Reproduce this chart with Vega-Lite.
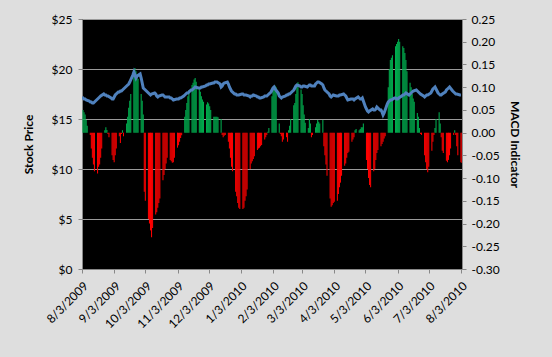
{
  "$schema": "https://vega.github.io/schema/vega-lite/v6.json",
  "width": 380,
  "height": 250,
  "autosize": {"type": "none"},
  "padding": {"left": 82, "top": 19, "right": 90, "bottom": 88},
  "background": "#dedede",
  "config": {
    "view": {"fill": "#000000", "stroke": null},
    "font": "Lato",
    "axis": {"labelFont": "Lato", "titleFont": "Lato", "labelFontSize": 12, "titleFontSize": 12, "labelColor": "#000000", "titleColor": "#000000", "titleFontWeight": "bold", "domainColor": "#888888", "tickColor": "#888888", "tickSize": 4}
  },
  "data": {"values": [
    {"date":"2009/08/03","price":17.2,"macd":0.05},{"date":"2009/08/04","price":17.1,"macd":0.045},{"date":"2009/08/05","price":17.0,"macd":0.04},{"date":"2009/08/06","price":17.0,"macd":0.028},{"date":"2009/08/07","price":16.9,"macd":0.015},
    {"date":"2009/08/10","price":16.8,"macd":-0.005},{"date":"2009/08/11","price":16.7,"macd":-0.035},{"date":"2009/08/12","price":16.7,"macd":-0.055},{"date":"2009/08/13","price":16.6,"macd":-0.07},{"date":"2009/08/14","price":16.6,"macd":-0.085},
    {"date":"2009/08/17","price":16.9,"macd":-0.09},{"date":"2009/08/18","price":17.0,"macd":-0.075},{"date":"2009/08/19","price":17.1,"macd":-0.07},{"date":"2009/08/20","price":17.2,"macd":-0.055},{"date":"2009/08/21","price":17.3,"macd":-0.035},
    {"date":"2009/08/24","price":17.5,"macd":0.005},{"date":"2009/08/25","price":17.4,"macd":0.012},{"date":"2009/08/26","price":17.4,"macd":0.006},{"date":"2009/08/27","price":17.3,"macd":-0.003},{"date":"2009/08/28","price":17.3,"macd":-0.01},
    {"date":"2009/08/31","price":17.1,"macd":-0.05},{"date":"2009/09/01","price":17.0,"macd":-0.06},{"date":"2009/09/02","price":17.0,"macd":-0.065},{"date":"2009/09/03","price":17.2,"macd":-0.05},{"date":"2009/09/04","price":17.4,"macd":-0.035},
    {"date":"2009/09/07","price":17.7,"macd":-0.008},{"date":"2009/09/08","price":17.7,"macd":-0.023},{"date":"2009/09/09","price":17.8,"macd":-0.003},{"date":"2009/09/10","price":17.8,"macd":0.005},{"date":"2009/09/11","price":17.9,"macd":-0.008},
    {"date":"2009/09/14","price":18.2,"macd":0.02},{"date":"2009/09/15","price":18.3,"macd":0.035},{"date":"2009/09/16","price":18.4,"macd":0.055},{"date":"2009/09/17","price":18.5,"macd":0.07},{"date":"2009/09/18","price":18.7,"macd":0.085},
    {"date":"2009/09/21","price":19.4,"macd":0.13},{"date":"2009/09/22","price":19.7,"macd":0.142},{"date":"2009/09/23","price":19.4,"macd":0.135},{"date":"2009/09/24","price":19.1,"macd":0.125},{"date":"2009/09/25","price":19.3,"macd":0.118},
    {"date":"2009/09/28","price":19.5,"macd":0.085},{"date":"2009/09/29","price":19.1,"macd":0.07},{"date":"2009/09/30","price":18.6,"macd":0.04},{"date":"2009/10/01","price":18.1,"macd":-0.13},{"date":"2009/10/02","price":18.0,"macd":-0.15},
    {"date":"2009/10/05","price":17.7,"macd":-0.19},{"date":"2009/10/06","price":17.6,"macd":-0.2},{"date":"2009/10/07","price":17.5,"macd":-0.215},{"date":"2009/10/08","price":17.4,"macd":-0.23},{"date":"2009/10/09","price":17.5,"macd":-0.21},
    {"date":"2009/10/12","price":17.6,"macd":-0.18},{"date":"2009/10/13","price":17.5,"macd":-0.175},{"date":"2009/10/14","price":17.3,"macd":-0.165},{"date":"2009/10/15","price":17.2,"macd":-0.155},{"date":"2009/10/16","price":17.3,"macd":-0.145},
    {"date":"2009/10/19","price":17.4,"macd":-0.105},{"date":"2009/10/20","price":17.4,"macd":-0.093},{"date":"2009/10/21","price":17.3,"macd":-0.08},{"date":"2009/10/22","price":17.2,"macd":-0.068},{"date":"2009/10/23","price":17.2,"macd":-0.055},
    {"date":"2009/10/26","price":17.2,"macd":-0.06},{"date":"2009/10/27","price":17.1,"macd":-0.063},{"date":"2009/10/28","price":17.1,"macd":-0.066},{"date":"2009/10/29","price":17.0,"macd":-0.065},{"date":"2009/10/30","price":16.9,"macd":-0.055},
    {"date":"2009/11/02","price":17.0,"macd":-0.033},{"date":"2009/11/03","price":17.0,"macd":-0.028},{"date":"2009/11/04","price":17.0,"macd":-0.02},{"date":"2009/11/05","price":17.1,"macd":-0.012},{"date":"2009/11/06","price":17.1,"macd":-0.006},
    {"date":"2009/11/09","price":17.3,"macd":0.035},{"date":"2009/11/10","price":17.4,"macd":0.05},{"date":"2009/11/11","price":17.5,"macd":0.065},{"date":"2009/11/12","price":17.6,"macd":0.08},{"date":"2009/11/13","price":17.6,"macd":0.094},
    {"date":"2009/11/16","price":17.9,"macd":0.105},{"date":"2009/11/17","price":17.9,"macd":0.11},{"date":"2009/11/18","price":18.0,"macd":0.117},{"date":"2009/11/19","price":18.1,"macd":0.12},{"date":"2009/11/20","price":18.2,"macd":0.112},
    {"date":"2009/11/23","price":18.1,"macd":0.1},{"date":"2009/11/24","price":18.1,"macd":0.09},{"date":"2009/11/25","price":18.1,"macd":0.08},{"date":"2009/11/26","price":18.2,"macd":0.073},{"date":"2009/11/27","price":18.2,"macd":0.068},
    {"date":"2009/11/30","price":18.3,"macd":0.062},{"date":"2009/12/01","price":18.4,"macd":0.067},{"date":"2009/12/02","price":18.4,"macd":0.064},{"date":"2009/12/03","price":18.5,"macd":0.058},{"date":"2009/12/04","price":18.5,"macd":0.05},
    {"date":"2009/12/07","price":18.6,"macd":0.035},{"date":"2009/12/08","price":18.6,"macd":0.035},{"date":"2009/12/09","price":18.7,"macd":0.035},{"date":"2009/12/10","price":18.7,"macd":0.035},{"date":"2009/12/11","price":18.7,"macd":0.034},
    {"date":"2009/12/14","price":18.5,"macd":0.03},{"date":"2009/12/15","price":18.2,"macd":-0.005},{"date":"2009/12/16","price":18.3,"macd":-0.01},{"date":"2009/12/17","price":18.5,"macd":-0.007},{"date":"2009/12/18","price":18.6,"macd":-0.005},
    {"date":"2009/12/21","price":18.7,"macd":-0.02},{"date":"2009/12/22","price":18.5,"macd":-0.035},{"date":"2009/12/23","price":18.2,"macd":-0.055},{"date":"2009/12/24","price":18.0,"macd":-0.075},{"date":"2009/12/25","price":17.8,"macd":-0.085},
    {"date":"2009/12/28","price":17.5,"macd":-0.13},{"date":"2009/12/29","price":17.5,"macd":-0.14},{"date":"2009/12/30","price":17.4,"macd":-0.155},{"date":"2009/12/31","price":17.4,"macd":-0.165},{"date":"2010/01/01","price":17.4,"macd":-0.168},
    {"date":"2010/01/04","price":17.5,"macd":-0.168},{"date":"2010/01/05","price":17.5,"macd":-0.165},{"date":"2010/01/06","price":17.4,"macd":-0.15},{"date":"2010/01/07","price":17.4,"macd":-0.14},{"date":"2010/01/08","price":17.4,"macd":-0.125},
    {"date":"2010/01/11","price":17.3,"macd":-0.08},{"date":"2010/01/12","price":17.2,"macd":-0.068},{"date":"2010/01/13","price":17.3,"macd":-0.063},{"date":"2010/01/14","price":17.3,"macd":-0.058},{"date":"2010/01/15","price":17.4,"macd":-0.052},
    {"date":"2010/01/18","price":17.3,"macd":-0.038},{"date":"2010/01/19","price":17.2,"macd":-0.035},{"date":"2010/01/20","price":17.2,"macd":-0.033},{"date":"2010/01/21","price":17.1,"macd":-0.03},{"date":"2010/01/22","price":17.1,"macd":-0.027},
    {"date":"2010/01/25","price":17.2,"macd":-0.015},{"date":"2010/01/26","price":17.3,"macd":-0.01},{"date":"2010/01/27","price":17.3,"macd":-0.005},{"date":"2010/01/28","price":17.3,"macd":0.002},{"date":"2010/01/29","price":17.4,"macd":0.01},
    {"date":"2010/02/01","price":17.7,"macd":0.08},{"date":"2010/02/02","price":17.9,"macd":0.095},{"date":"2010/02/03","price":18.1,"macd":0.1},{"date":"2010/02/04","price":18.2,"macd":0.103},{"date":"2010/02/05","price":18.0,"macd":0.1},
    {"date":"2010/02/08","price":17.6,"macd":0.02},{"date":"2010/02/09","price":17.3,"macd":-0.003},{"date":"2010/02/10","price":17.2,"macd":-0.008},{"date":"2010/02/11","price":17.1,"macd":-0.02},{"date":"2010/02/12","price":17.2,"macd":-0.015},
    {"date":"2010/02/15","price":17.3,"macd":-0.01},{"date":"2010/02/16","price":17.4,"macd":-0.02},{"date":"2010/02/17","price":17.4,"macd":0.005},{"date":"2010/02/18","price":17.5,"macd":0.015},{"date":"2010/02/19","price":17.5,"macd":0.03},
    {"date":"2010/02/22","price":17.8,"macd":0.06},{"date":"2010/02/23","price":17.9,"macd":0.065},{"date":"2010/02/24","price":18.1,"macd":0.085},{"date":"2010/02/25","price":18.3,"macd":0.105},{"date":"2010/02/26","price":18.4,"macd":0.111},
    {"date":"2010/03/01","price":18.3,"macd":0.095},{"date":"2010/03/02","price":18.2,"macd":0.085},{"date":"2010/03/03","price":18.2,"macd":0.06},{"date":"2010/03/04","price":18.3,"macd":0.04},{"date":"2010/03/05","price":18.3,"macd":0.022},
    {"date":"2010/03/08","price":18.2,"macd":0.01},{"date":"2010/03/09","price":18.3,"macd":0.03},{"date":"2010/03/10","price":18.4,"macd":0.02},{"date":"2010/03/11","price":18.4,"macd":-0.01},{"date":"2010/03/12","price":18.3,"macd":-0.005},
    {"date":"2010/03/15","price":18.3,"macd":0.012},{"date":"2010/03/16","price":18.5,"macd":0.02},{"date":"2010/03/17","price":18.6,"macd":0.028},{"date":"2010/03/18","price":18.7,"macd":0.024},{"date":"2010/03/19","price":18.7,"macd":0.02},
    {"date":"2010/03/22","price":18.5,"macd":0.028},{"date":"2010/03/23","price":18.4,"macd":-0.03},{"date":"2010/03/24","price":18.1,"macd":-0.05},{"date":"2010/03/25","price":17.9,"macd":-0.07},{"date":"2010/03/26","price":17.8,"macd":-0.095},
    {"date":"2010/03/29","price":17.5,"macd":-0.145},{"date":"2010/03/30","price":17.3,"macd":-0.163},{"date":"2010/03/31","price":17.2,"macd":-0.16},{"date":"2010/04/01","price":17.3,"macd":-0.155},{"date":"2010/04/02","price":17.4,"macd":-0.152},
    {"date":"2010/04/05","price":17.3,"macd":-0.15},{"date":"2010/04/06","price":17.3,"macd":-0.135},{"date":"2010/04/07","price":17.3,"macd":-0.12},{"date":"2010/04/08","price":17.4,"macd":-0.11},{"date":"2010/04/09","price":17.4,"macd":-0.095},
    {"date":"2010/04/12","price":17.5,"macd":-0.073},{"date":"2010/04/13","price":17.4,"macd":-0.068},{"date":"2010/04/14","price":17.3,"macd":-0.055},{"date":"2010/04/15","price":17.1,"macd":-0.045},{"date":"2010/04/16","price":16.9,"macd":-0.042},
    {"date":"2010/04/19","price":17.0,"macd":-0.02},{"date":"2010/04/20","price":17.0,"macd":-0.015},{"date":"2010/04/21","price":17.0,"macd":-0.01},{"date":"2010/04/22","price":16.9,"macd":0.005},{"date":"2010/04/23","price":17.0,"macd":0.008},
    {"date":"2010/04/26","price":17.2,"macd":0.005},{"date":"2010/04/27","price":17.1,"macd":0.008},{"date":"2010/04/28","price":17.0,"macd":0.012},{"date":"2010/04/29","price":17.0,"macd":0.012},{"date":"2010/04/30","price":17.1,"macd":0.02},
    {"date":"2010/05/03","price":16.2,"macd":-0.06},{"date":"2010/05/04","price":16.0,"macd":-0.08},{"date":"2010/05/05","price":15.8,"macd":-0.1},{"date":"2010/05/06","price":15.7,"macd":-0.115},{"date":"2010/05/07","price":15.8,"macd":-0.12},
    {"date":"2010/05/10","price":16.0,"macd":-0.085},{"date":"2010/05/11","price":15.9,"macd":-0.08},{"date":"2010/05/12","price":15.9,"macd":-0.06},{"date":"2010/05/13","price":16.0,"macd":-0.045},{"date":"2010/05/14","price":16.2,"macd":-0.038},
    {"date":"2010/05/17","price":15.9,"macd":-0.03},{"date":"2010/05/18","price":15.9,"macd":-0.025},{"date":"2010/05/19","price":15.7,"macd":-0.02},{"date":"2010/05/20","price":15.4,"macd":-0.013},{"date":"2010/05/21","price":15.6,"macd":-0.008},
    {"date":"2010/05/24","price":16.5,"macd":0.1},{"date":"2010/05/25","price":16.7,"macd":0.14},{"date":"2010/05/26","price":16.8,"macd":0.16},{"date":"2010/05/27","price":16.9,"macd":0.165},{"date":"2010/05/28","price":16.9,"macd":0.17},
    {"date":"2010/05/31","price":17.1,"macd":0.19},{"date":"2010/06/01","price":17.1,"macd":0.195},{"date":"2010/06/02","price":17.0,"macd":0.2},{"date":"2010/06/03","price":17.0,"macd":0.206},{"date":"2010/06/04","price":17.1,"macd":0.2},
    {"date":"2010/06/07","price":17.3,"macd":0.19},{"date":"2010/06/08","price":17.4,"macd":0.186},{"date":"2010/06/09","price":17.4,"macd":0.175},{"date":"2010/06/10","price":17.5,"macd":0.16},{"date":"2010/06/11","price":17.6,"macd":0.135},
    {"date":"2010/06/14","price":17.4,"macd":0.11},{"date":"2010/06/15","price":17.5,"macd":0.1},{"date":"2010/06/16","price":17.6,"macd":0.085},{"date":"2010/06/17","price":17.7,"macd":0.075},{"date":"2010/06/18","price":17.8,"macd":0.068},
    {"date":"2010/06/21","price":17.9,"macd":0.043},{"date":"2010/06/22","price":17.8,"macd":0.035},{"date":"2010/06/23","price":17.7,"macd":0.01},{"date":"2010/06/24","price":17.6,"macd":-0.003},{"date":"2010/06/25","price":17.5,"macd":-0.005},
    {"date":"2010/06/28","price":17.3,"macd":-0.05},{"date":"2010/06/29","price":17.2,"macd":-0.065},{"date":"2010/06/30","price":17.3,"macd":-0.08},{"date":"2010/07/01","price":17.4,"macd":-0.087},{"date":"2010/07/02","price":17.4,"macd":-0.075},
    {"date":"2010/07/05","price":17.6,"macd":-0.04},{"date":"2010/07/06","price":17.8,"macd":-0.02},{"date":"2010/07/07","price":18.0,"macd":-0.005},{"date":"2010/07/08","price":18.1,"macd":0.01},{"date":"2010/07/09","price":18.2,"macd":0.03},
    {"date":"2010/07/12","price":17.6,"macd":0.045},{"date":"2010/07/13","price":17.5,"macd":0.02},{"date":"2010/07/14","price":17.4,"macd":-0.01},{"date":"2010/07/15","price":17.4,"macd":-0.04},{"date":"2010/07/16","price":17.5,"macd":-0.045},
    {"date":"2010/07/19","price":17.7,"macd":-0.062},{"date":"2010/07/20","price":17.9,"macd":-0.065},{"date":"2010/07/21","price":18.0,"macd":-0.06},{"date":"2010/07/22","price":18.1,"macd":-0.05},{"date":"2010/07/23","price":18.2,"macd":-0.035},
    {"date":"2010/07/26","price":17.8,"macd":-0.005},{"date":"2010/07/27","price":17.7,"macd":0.005},{"date":"2010/07/28","price":17.6,"macd":-0.005},{"date":"2010/07/29","price":17.5,"macd":-0.03},{"date":"2010/07/30","price":17.5,"macd":-0.05},
    {"date":"2010/08/02","price":17.4,"macd":-0.065},{"date":"2010/08/03","price":17.4,"macd":-0.067}
  ]},
  "layer": [
    {
      "mark": {"type": "bar", "clip": true, "binSpacing": 0},
      "encoding": {
        "x": {"field": "date", "type": "temporal", "timeUnit": "yearmonthdate",
          "scale": {"domain": [{"year": 2009, "month": 8, "date": 3}, {"year": 2010, "month": 8, "date": 4}]},
          "axis": {"title": null, "format": "%-m/%-d/%Y", "labelAngle": -45, "grid": false, "labelOverlap": false, "labelPadding": 7,
            "values": [{"year":2009,"month":8,"date":3},{"year":2009,"month":9,"date":3},{"year":2009,"month":10,"date":3},{"year":2009,"month":11,"date":3},{"year":2009,"month":12,"date":3},{"year":2010,"month":1,"date":3},{"year":2010,"month":2,"date":3},{"year":2010,"month":3,"date":3},{"year":2010,"month":4,"date":3},{"year":2010,"month":5,"date":3},{"year":2010,"month":6,"date":3},{"year":2010,"month":7,"date":3},{"year":2010,"month":8,"date":3}]}},
        "y": {"field": "macd", "type": "quantitative",
          "scale": {"domain": [-0.3, 0.25], "nice": false},
          "axis": {"orient": "right", "title": "MACD Indicator", "grid": false, "titlePadding": 8, "labelPadding": 5,
            "values": [-0.3, -0.25, -0.2, -0.15, -0.1, -0.05, 0, 0.05, 0.1, 0.15, 0.2, 0.25],
            "labelExpr": "replace(format(datum.value, '.2f'), '\u2212', '-')"}},
        "color": {"condition": {"test": "datum.macd >= 0", "value": "#00B050"}, "value": "#FF0000"}
      }
    },
    {
      "mark": {"type": "line", "color": "#4F81BD", "strokeWidth": 3, "clip": true},
      "encoding": {
        "x": {"field": "date", "type": "temporal",
          "axis": {"title": null, "format": "%-m/%-d/%Y", "labelAngle": -45, "grid": false, "labelOverlap": false, "labelPadding": 7,
            "values": [{"year":2009,"month":8,"date":3},{"year":2009,"month":9,"date":3},{"year":2009,"month":10,"date":3},{"year":2009,"month":11,"date":3},{"year":2009,"month":12,"date":3},{"year":2010,"month":1,"date":3},{"year":2010,"month":2,"date":3},{"year":2010,"month":3,"date":3},{"year":2010,"month":4,"date":3},{"year":2010,"month":5,"date":3},{"year":2010,"month":6,"date":3},{"year":2010,"month":7,"date":3},{"year":2010,"month":8,"date":3}]}},
        "y": {"field": "price", "type": "quantitative",
          "scale": {"domain": [0, 25], "nice": false},
          "axis": {"orient": "left", "title": "Stock Price", "grid": true, "gridColor": "#9a9a9a", "titlePadding": 16, "labelPadding": 6,
            "values": [0, 5, 10, 15, 20, 25], "format": "$.0f"}}
      }
    }
  ],
  "resolve": {"scale": {"y": "independent"}}
}
